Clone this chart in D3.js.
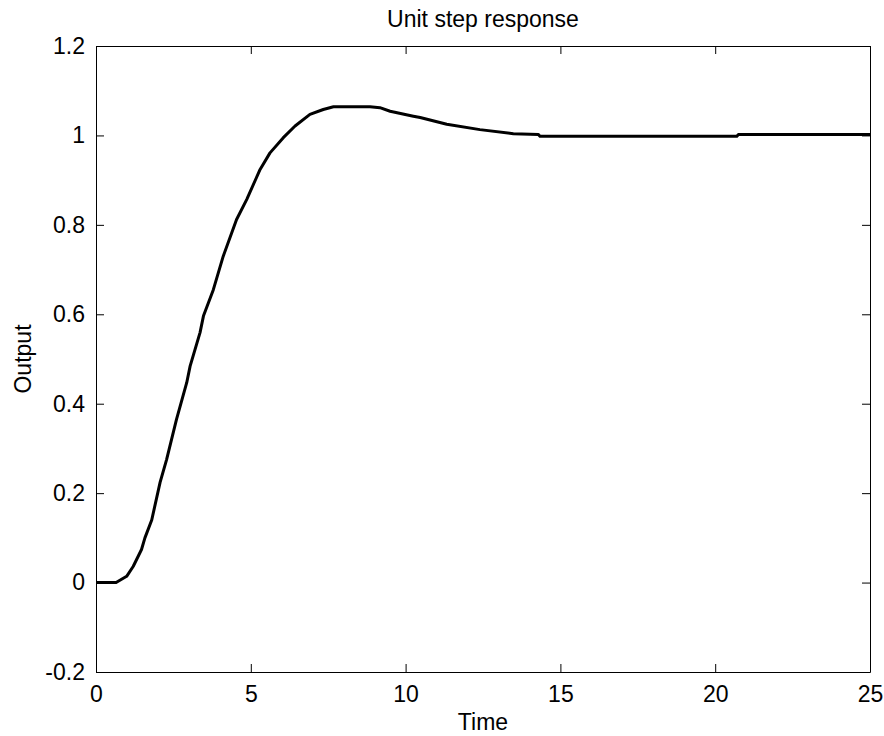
<!DOCTYPE html>
<html>
<head>
	<meta charset="utf-8">
	<style>
		body {
		    margin: 0;
		    background-color: #fff;
		}
		text {
			font-family: "Liberation Sans", Arial, sans-serif;
			fill: #000;
		}
	</style>
	<script src="https://d3js.org/d3.v7.min.js"></script>
</head>
<body>
	<div id="chart"></div>
	<script>
		// step response
		var times = [0, 0.65, 0.99, 1.2, 1.47, 1.58, 1.8, 2.07, 2.28, 2.6, 2.93, 3.04, 3.36, 3.47, 3.79, 4.11, 4.54, 4.87, 5.3, 5.62, 6.05, 6.43, 6.91, 7.34, 7.67, 8.85, 9.17, 9.5, 10.25, 10.47, 11.33, 12.4, 13.48, 14.29, 14.34, 20.7, 20.75, 25];
		var outputs = [0, 0, 0.014, 0.036, 0.074, 0.10, 0.14, 0.224, 0.275, 0.365, 0.447, 0.484, 0.559, 0.596, 0.655, 0.73, 0.812, 0.857, 0.924, 0.961, 0.995, 1.021, 1.047, 1.058, 1.064, 1.064, 1.062, 1.054, 1.043, 1.04, 1.025, 1.013, 1.004, 1.002, 0.998, 0.998, 1.002, 1.002];
		var xTicks = [0, 5, 10, 15, 20, 25];
		var yTicks = [-0.2, 0, 0.2, 0.4, 0.6, 0.8, 1, 1.2];

		var width = 884, height = 736;
		// plot box edges (window.top is taken, so no "top")
		var plotL = 96, plotR = 870, plotT = 46, plotB = 672;

		var svg = d3.select("#chart").append("svg")
			.attr("width", width)
			.attr("height", height);

		var x = d3.scaleLinear().domain([0, 25]).range([plotL, plotR]);
		var y = d3.scaleLinear().domain([-0.2, 1.2]).range([plotB, plotT]);

		// bottom and left axes with labels, inner ticks
		svg.append("g")
			.attr("transform", "translate(0," + plotB + ")")
			.call(d3.axisBottom(x).tickValues(xTicks).tickSizeInner(-8).tickSizeOuter(0).tickPadding(14))
			.call(function(g) {
				g.selectAll("text").style("font-size", "23px");
			});

		svg.append("g")
			.attr("transform", "translate(" + plotL + ",0)")
			.call(d3.axisLeft(y).tickValues(yTicks).tickFormat(function(d) { return String(d); })
				.tickSizeInner(-8).tickSizeOuter(0).tickPadding(11))
			.call(function(g) {
				g.selectAll("text").style("font-size", "23px");
			});

		// top and right, ticks only
		svg.append("g")
			.attr("transform", "translate(0," + plotT + ")")
			.call(d3.axisTop(x).tickValues(xTicks).tickSizeInner(-8).tickSizeOuter(0).tickFormat(""));

		svg.append("g")
			.attr("transform", "translate(" + plotR + ",0)")
			.call(d3.axisRight(y).tickValues(yTicks).tickSizeInner(-8).tickSizeOuter(0).tickFormat(""));

		svg.selectAll(".domain, .tick line").attr("stroke", "#000").attr("stroke-width", 1);

		var line = d3.line()
			.x(function(d, i) { return x(times[i]); })
			.y(function(d) { return y(d); });

		svg.append("path")
			.datum(outputs)
			.attr("fill", "none")
			.attr("stroke", "#000")
			.attr("stroke-width", 3)
			.attr("stroke-linejoin", "round")
			.attr("d", line);

		// title and axis labels
		svg.append("text")
			.attr("x", (plotL + plotR) / 2)
			.attr("y", 27)
			.attr("text-anchor", "middle")
			.style("font-size", "23px")
			.text("Unit step response");

		svg.append("text")
			.attr("x", (plotL + plotR) / 2)
			.attr("y", 730)
			.attr("text-anchor", "middle")
			.style("font-size", "23px")
			.text("Time");

		svg.append("text")
			.attr("transform", "translate(31," + ((plotT + plotB) / 2) + ") rotate(-90)")
			.attr("text-anchor", "middle")
			.style("font-size", "23px")
			.text("Output");
	</script>
</body>
</html>
